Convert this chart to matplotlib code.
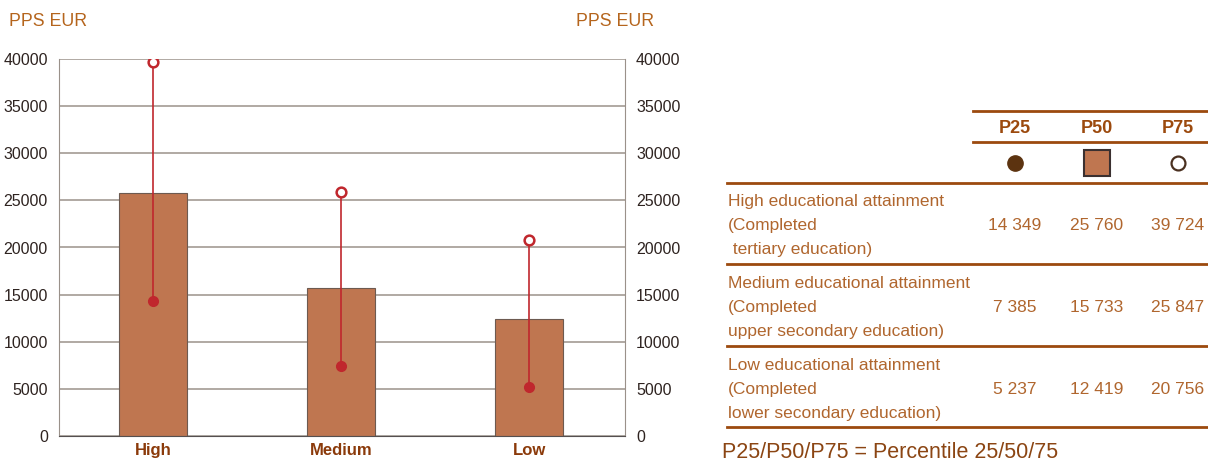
import numpy as np
import matplotlib.pyplot as plt
from matplotlib.lines import Line2D

# Earnings percentiles (PPS EUR) by educational attainment
levels = ['High', 'Medium', 'Low']
row_titles = [
    ['High educational attainment', '(Completed', ' tertiary education)'],
    ['Medium educational attainment', '(Completed', 'upper secondary education)'],
    ['Low educational attainment', '(Completed', 'lower secondary education)'],
]
p25 = [14349, 7385, 5237]
p50 = [25760, 15733, 12419]
p75 = [39724, 25847, 20756]
percentile_names = ['P25', 'P50', 'P75']
y_ticks = [0, 5000, 10000, 15000, 20000, 25000, 30000, 35000, 40000]

bar_col = '#bf7650'
red = '#c0272d'
brown = '#9c4a0e'
text_brown = '#b0662e'
font = ['Liberation Sans', 'DejaVu Sans']
plt.rcParams['font.family'] = font

fig = plt.figure(figsize=(12.08, 4.61), dpi=100)
W, H = 1208, 461

ax = fig.add_axes([59 / W, 25 / H, 566 / W, 377 / H])
x = np.arange(len(levels))
ax.set_axisbelow(True)
ax.yaxis.grid(True, color='#a39b93', lw=1.2)
ax.bar(x, p50, width=0.36, color=bar_col, edgecolor='#6d5a50', lw=0.8, zorder=2)
ax.vlines(x, p25, p75, color=red, lw=1.2, zorder=3)
ax.plot(x, p25, 'o', ms=7, color=red, mec=red, zorder=4)
ax.plot(x, p75, 'o', ms=7, mfc='white', mec=red, mew=1.8, zorder=4)

ax.set_xlim(-0.5, 2.51)
ax.set_ylim(0, 40000)
ax.set_yticks(y_ticks)
ax.set_xticks(x)
ax.set_xticklabels(levels, fontsize=12, fontweight='bold', color='#8b3a0a')
ax.tick_params(axis='x', length=0, pad=5)
ax.tick_params(axis='y', length=0, pad=8, labelsize=11.5, labelcolor='#2e2320',
               right=True, labelright=True)
for s in ['left', 'right']:
    ax.spines[s].set_color('#9a918a')
ax.spines['top'].set_visible(False)
ax.spines['bottom'].set_color('#555050')

fig.text(9 / W, 1 - 22 / H, 'PPS EUR', color='#b5651d', fontsize=12.8, va='center')
fig.text(576 / W, 1 - 22 / H, 'PPS EUR', color='#b5651d', fontsize=12.8, va='center')

# table on the right, laid out in pixel coordinates
tab = fig.add_axes([0, 0, 1, 1])
tab.set_xlim(0, W)
tab.set_ylim(H, 0)
tab.axis('off')

def hline(x0, y):
    tab.add_line(Line2D([x0, W], [y, y], color=brown, lw=2))

hline(973, 111)
hline(973, 142)
for y in [183, 264, 346, 427]:
    hline(727, y)

col_x = [1015, 1097, 1178]
for cx, name in zip(col_x, percentile_names):
    tab.text(cx, 128, name, ha='center', va='center', fontsize=13,
             fontweight='bold', color=brown)

tab.plot(col_x[0], 163, 'o', ms=11, color='#5c3310')
tab.plot(col_x[1], 163, 's', ms=19, color=bar_col, mec='#3a3030', mew=1.5)
tab.plot(col_x[2], 163, 'o', ms=10, mfc='white', mec='#4a3020', mew=1.6)

row_top = [201, 283, 365]
for r, y0 in enumerate(row_top):
    for k, line in enumerate(row_titles[r]):
        tab.text(728, y0 + 24 * k, line, ha='left', va='center', fontsize=12.5,
                 color=text_brown)
    for cx, vals in zip(col_x, [p25, p50, p75]):
        tab.text(cx, y0 + 24, f'{vals[r]:,}'.replace(',', ' '), ha='center',
                 va='center', fontsize=12.5, color=text_brown)

tab.text(722, 452, 'P25/P50/P75 = Percentile 25/50/75', ha='left', va='center',
         fontsize=15.5, color='#8b4513')

fig.savefig('out.png', dpi=100)
